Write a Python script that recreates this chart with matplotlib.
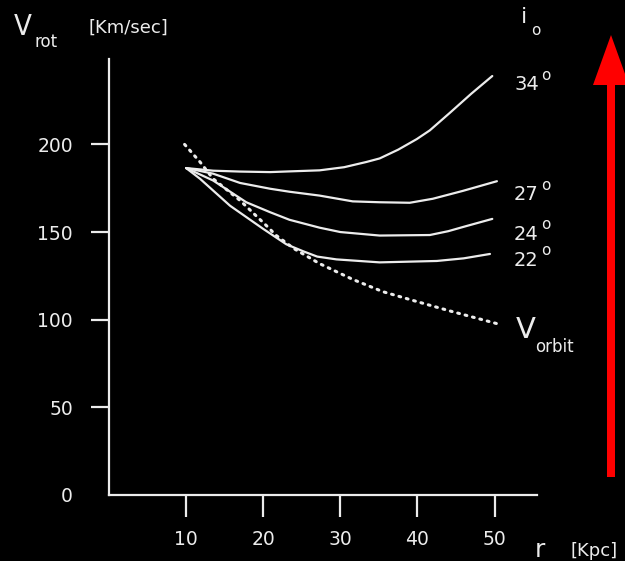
import matplotlib
matplotlib.use("Agg")
import matplotlib.pyplot as plt
from matplotlib.patches import Polygon

# ---- data ----
r_34 = [10, 13.5, 17, 20.9, 23.4, 27.3, 30.5, 33.4, 35.1, 37.5, 39.9, 41.6, 44.2, 47, 49.7]
v_34 = [186.5, 185, 184.5, 184.2, 184.6, 185.2, 187, 190, 192, 197, 203, 208, 218, 229, 239]

r_27 = [10, 13.5, 17, 20.9, 23.4, 27.3, 31.6, 35.1, 39, 42, 45.9, 50.3]
v_27 = [186.5, 183.3, 178, 174.7, 173, 170.8, 167.5, 167, 166.7, 169, 173.5, 179]

r_24 = [10, 13.5, 17.8, 20.9, 23.4, 27.3, 30, 35.1, 41.6, 44, 46, 49.7]
v_24 = [186.5, 179.4, 167, 161.3, 157, 152.5, 150, 148, 148.3, 150.5, 153, 157.5]

r_22 = [10, 11.8, 15.7, 20, 23, 25.2, 27, 29.5, 35.1, 42.5, 46, 49.4]
v_22 = [186.5, 180.4, 165, 151.8, 143, 139, 136, 134.4, 132.7, 133.5, 135, 137.5]

r_orbit = [9.8, 11.8, 13.5, 17, 20.4, 21.7, 24, 27.3, 31.6, 35.5, 39.8, 44.2, 50.6]
v_orbit = [200, 190, 180.4, 168, 153.7, 148, 140.5, 132, 123, 116, 110.5, 105, 97.4]

x_ticks = [10, 20, 30, 40, 50]
y_ticks = [0, 50, 100, 150, 200]
curve_labels = ["34", "27", "24", "22"]

W, H = 625, 561
FG = "#ececec"

def fx(x):
    return x / W

def fy(y):
    return 1 - y / H

fig = plt.figure(figsize=(W / 100, H / 100), dpi=100, facecolor="black")
ax = fig.add_axes([fx(109), fy(495), (537 - 109) / W, (495 - 58.5) / H])
ax.set_facecolor("black")
ax.set_xlim(0, 55.5)
ax.set_ylim(0, 249)

for s in ["top", "right"]:
    ax.spines[s].set_visible(False)
for s in ["left", "bottom"]:
    ax.spines[s].set_color(FG)
    ax.spines[s].set_linewidth(1.6)

ax.set_xticks(x_ticks)
ax.set_yticks(y_ticks)
ax.set_xticklabels([str(v) for v in x_ticks])
ax.set_yticklabels([str(v) for v in y_ticks])
ax.tick_params(axis="y", direction="out", length=13, width=1.6, color=FG,
               labelcolor=FG, labelsize=13.5, pad=13)
ax.tick_params(axis="x", direction="out", length=16, width=1.6, color=FG,
               labelcolor=FG, labelsize=13.5, pad=9)
# hide the tick mark at y=0 (corner)
ax.yaxis.get_major_ticks()[0].tick1line.set_visible(False)

lw = 1.6
for r, v in [(r_34, v_34), (r_27, v_27), (r_24, v_24), (r_22, v_22)]:
    ax.plot(r, v, color=FG, lw=lw, solid_capstyle="round", solid_joinstyle="round")
ax.plot(r_orbit, v_orbit, color=FG, lw=2.2, linestyle=(0, (0.6, 1.9)),
        dash_capstyle="round")

# ---- text labels ----
txt = dict(color=FG, family="DejaVu Sans")
fig.text(fx(14), fy(35), "V", fontsize=21, va="baseline", ha="left",
         fontstretch="condensed", **txt)
fig.text(fx(35), fy(47), "rot", fontsize=12, va="baseline", ha="left", **txt)
fig.text(fx(88), fy(33), "[Km/sec]", fontsize=13, va="baseline", ha="left", **txt)

fig.text(fx(521), fy(23), "i", fontsize=16, va="baseline", ha="left", **txt)
fig.text(fx(531), fy(35), "o", fontsize=11, va="baseline", ha="left", **txt)

label_baselines = [90, 200, 240, 266]
ring_tops = [80, 190, 229, 255]
for lab, yb, yr in zip(curve_labels, label_baselines, ring_tops):
    fig.text(fx(514), fy(yb), lab, fontsize=14, va="baseline", ha="left", **txt)
    fig.text(fx(541), fy(yr), "o", fontsize=11, va="baseline", ha="left", **txt)

fig.text(fx(516), fy(338), "V", fontsize=21, va="baseline", ha="left", **txt)
fig.text(fx(535), fy(352), "orbit", fontsize=12, va="baseline", ha="left", **txt)

fig.text(fx(535), fy(557), "r", fontsize=18, va="baseline", ha="left", **txt)
fig.text(fx(571), fy(556), "[Kpc]", fontsize=13, va="baseline", ha="left", **txt)

# ---- red arrow ----
arrow_pts = [(607, 477), (615, 477), (615, 85), (629, 85), (611, 35),
             (593, 85), (607, 85)]
fig.patches.append(Polygon([(fx(x), fy(y)) for x, y in arrow_pts], closed=True,
                           transform=fig.transFigure, facecolor="#ff0000",
                           edgecolor="none"))

fig.savefig("out.png", dpi=100, facecolor="black")
